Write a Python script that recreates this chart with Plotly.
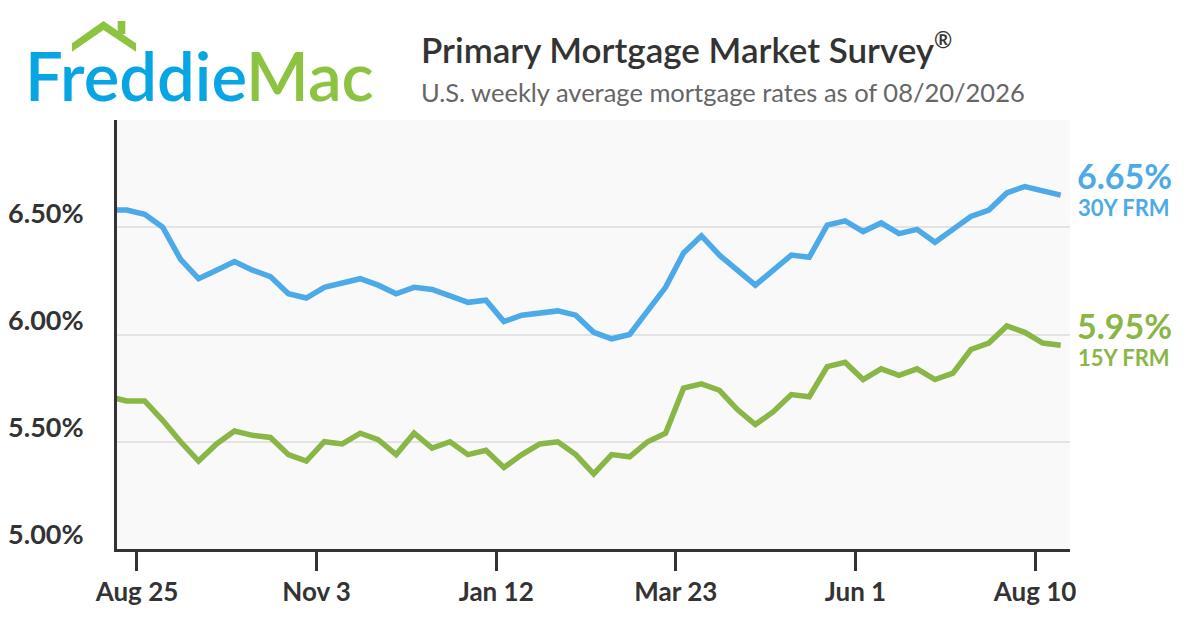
import plotly.graph_objects as go
import pandas as pd

# ---- data ----
week_start = "2025-08-14"
n_weeks = 54
dates = pd.date_range(week_start, periods=n_weeks, freq="7D")

rate_30y = [6.58, 6.58, 6.56, 6.50, 6.35, 6.26, 6.30, 6.34, 6.30, 6.27,
            6.19, 6.17, 6.22, 6.24, 6.26, 6.23, 6.19, 6.22, 6.21, 6.18,
            6.15, 6.16, 6.06, 6.09, 6.10, 6.11, 6.09, 6.01, 5.98, 6.00,
            6.11, 6.22, 6.38, 6.46, 6.37, 6.30, 6.23, 6.30, 6.37, 6.36,
            6.51, 6.53, 6.48, 6.52, 6.47, 6.49, 6.43, 6.49, 6.55, 6.58,
            6.66, 6.69, 6.67, 6.65]
rate_15y = [5.71, 5.69, 5.69, 5.60, 5.50, 5.41, 5.49, 5.55, 5.53, 5.52,
            5.44, 5.41, 5.50, 5.49, 5.54, 5.51, 5.44, 5.54, 5.47, 5.50,
            5.44, 5.46, 5.38, 5.44, 5.49, 5.50, 5.44, 5.35, 5.44, 5.43,
            5.50, 5.54, 5.75, 5.77, 5.74, 5.65, 5.58, 5.64, 5.72, 5.71,
            5.85, 5.87, 5.79, 5.84, 5.81, 5.84, 5.79, 5.82, 5.93, 5.96,
            6.04, 6.01, 5.96, 5.95]

x_tick_dates = ["2025-08-25", "2025-11-03", "2026-01-12", "2026-03-23", "2026-06-01", "2026-08-10"]
x_tick_labels = ["Aug 25", "Nov 3", "Jan 12", "Mar 23", "Jun 1", "Aug 10"]
y_tick_vals = [5.0, 5.5, 6.0, 6.5]
y_tick_labels = [f"{v:.2f}%" for v in y_tick_vals]

series_names = ["30Y FRM", "15Y FRM"]
title_text = 'Primary Mortgage Market Survey<sup><span style="font-size:22px">®</span></sup>'
subtitle_text = "U.S. weekly average mortgage rates as of 08/20/2026"

# ---- styling ----
OFF = 8                      # page body margin
W, H = 1200 - OFF, 630 - OFF
# plot area in screen pixels
SL, SR, ST, SB = 117, 1070, 120, 549
L, R, T, B = SL - OFF, SR - OFF, ST - OFF, SB - OFF
BLUE = "#4daae8"
GREEN = "#89b646"
LOGO_BLUE = "#08a5e4"
LOGO_GREEN = "#8cc441"
DARK = "#333333"
FONT = "Lato"


def px(xs):
    return (xs - SL) / (SR - SL)


def py(ys):
    return (SB - ys) / (SB - ST)


fig = go.Figure()
fig.add_trace(go.Scatter(x=dates, y=rate_30y, mode="lines", name=series_names[0],
                         line=dict(color=BLUE, width=5.5), hoverinfo="skip"))
fig.add_trace(go.Scatter(x=dates, y=rate_15y, mode="lines", name=series_names[1],
                         line=dict(color=GREEN, width=5.5), hoverinfo="skip"))

fig.update_layout(
    width=W, height=H,
    margin=dict(l=L, r=W - R, t=T, b=H - B, pad=0, autoexpand=False),
    paper_bgcolor="white",
    plot_bgcolor="#f9f9f9",
    showlegend=False,
    font=dict(family=FONT, color=DARK),
)

fig.update_xaxes(
    type="date",
    range=["2025-08-17 05:00", "2026-08-23 15:00"],
    tickvals=x_tick_dates, ticktext=x_tick_labels,
    ticks="outside", ticklen=19, tickwidth=3, tickcolor=DARK,
    showline=True, linecolor=DARK, linewidth=3,
    showgrid=False, zeroline=False, automargin=False,
    tickfont=dict(family=FONT, size=26, color=DARK, weight="bold"),
    ticklabelstandoff=-1,
)
fig.update_yaxes(
    range=[5.0, 7.0],
    tickvals=y_tick_vals, ticktext=y_tick_labels,
    ticks="", showline=True, linecolor=DARK, linewidth=3,
    showgrid=True, gridcolor="#e3e3e3", gridwidth=2, zeroline=False, automargin=False,
    tickfont=dict(family=FONT, size=27, color=DARK, weight="bold"),
    ticklabelstandoff=25,
    ticklabelshift=-14,
)

# Title / subtitle
fig.add_annotation(xref="paper", yref="paper", x=px(419), y=py(48), xanchor="left", yanchor="middle",
                   text=title_text, showarrow=False,
                   font=dict(family=FONT, size=35, color=DARK, weight=600))
fig.add_annotation(xref="paper", yref="paper", x=px(419), y=py(92), xanchor="left", yanchor="middle",
                   text=subtitle_text, showarrow=False,
                   font=dict(family=FONT, size=25.5, color="#666666"))

# Logo
fig.add_annotation(xref="paper", yref="paper", x=px(23), y=py(75), xanchor="left", yanchor="middle",
                   text=f'<span style="color:{LOGO_BLUE}">Freddie</span><span style="color:{LOGO_GREEN}">Mac</span>',
                   showarrow=False, font=dict(family=FONT, size=67, weight=600))
roof = [(72, 43.3), (103.5, 21), (136, 43.3), (136, 51.7), (103.5, 30), (72, 51.7)]
path = "M " + " L ".join(f"{px(a):.5f},{py(b):.5f}" for a, b in roof) + " Z"
fig.add_shape(type="path", xref="paper", yref="paper", path=path,
              fillcolor=LOGO_GREEN, line=dict(width=0), layer="above")
fig.add_shape(type="rect", xref="paper", yref="paper", x0=px(117.7), x1=px(125.3), y0=py(21), y1=py(34),
              fillcolor=LOGO_GREEN, line=dict(width=0), layer="above")

# Right-hand end labels
fig.add_annotation(xref="paper", yref="paper", x=px(1075), y=py(175), xanchor="left", yanchor="middle",
                   text=f"{rate_30y[-1]:.2f}%", showarrow=False,
                   font=dict(family=FONT, size=34, color=BLUE, weight="bold"))
fig.add_annotation(xref="paper", yref="paper", x=px(1076), y=py(207), xanchor="left", yanchor="middle",
                   text=series_names[0], showarrow=False,
                   font=dict(family=FONT, size=22, color=BLUE, weight="bold"))
fig.add_annotation(xref="paper", yref="paper", x=px(1075), y=py(325), xanchor="left", yanchor="middle",
                   text=f"{rate_15y[-1]:.2f}%", showarrow=False,
                   font=dict(family=FONT, size=34, color=GREEN, weight="bold"))
fig.add_annotation(xref="paper", yref="paper", x=px(1076), y=py(357), xanchor="left", yanchor="middle",
                   text=series_names[1], showarrow=False,
                   font=dict(family=FONT, size=22, color=GREEN, weight="bold"))

fig.write_html("out.html")
